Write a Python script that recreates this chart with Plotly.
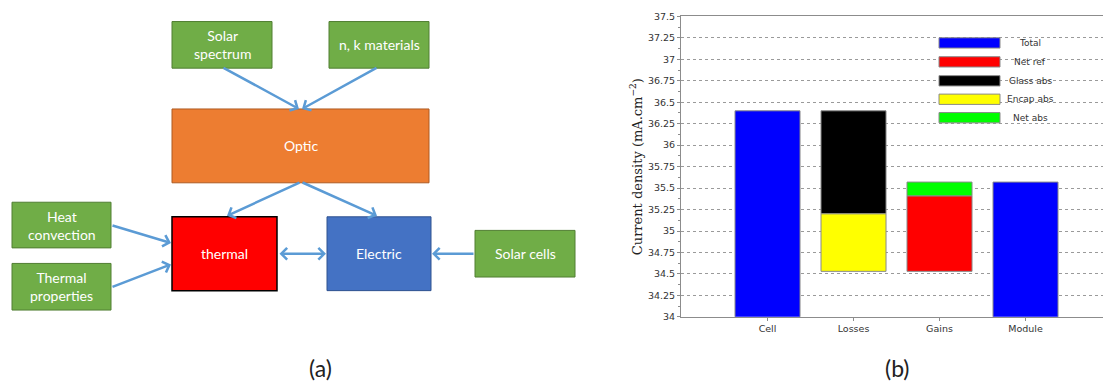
import plotly.graph_objects as go

# ---------------- data: current-density waterfall (mA.cm^-2) ----------------
categories = ["Cell", "Losses", "Gains", "Module"]
cell_current = 36.40
glass_abs = 1.20      # loss in the glass
encap_abs = 0.67      # loss in the encapsulant
net_ref = 0.88        # gain from net reflection
net_abs = 0.16        # gain from net absorption
module_current = 35.57

y_ticks = [34, 34.25, 34.5, 34.75, 35, 35.25, 35.5, 35.75,
           36, 36.25, 36.5, 36.75, 37, 37.25, 37.5]
y_tick_text = ["34", "34.25", "34.5", "34.75", "35", "35.25", "35.5", "35.75",
               "36", "36.25", "36.5", "36.75", "37", "37.25", "37.5"]

legend_names = ["Total", "Net ref", "Glass abs", "Encap abs", "Net abs"]
legend_colors = ["#0000FF", "#FF0000", "#000000", "#FFFF00", "#00FF00"]
color_of = dict(zip(legend_names, legend_colors))

# waterfall bases
glass_base = cell_current - glass_abs
encap_base = glass_base - encap_abs
ref_base = encap_base
abs_base = ref_base + net_ref

W, H = 1103, 385


def px(x):
    return x / W


def py(y):
    return 1 - y / H


fig = go.Figure()
bar_line = dict(color="#8a8a8a", width=1)
bw = 0.756

fig.add_trace(go.Bar(x=["Cell", "Module"], y=[cell_current, module_current],
                     marker=dict(color=color_of["Total"], line=bar_line), width=bw, name="Total"))
fig.add_trace(go.Bar(x=["Losses"], y=[glass_abs], base=[glass_base],
                     marker=dict(color=color_of["Glass abs"], line=bar_line), width=bw, name="Glass abs"))
fig.add_trace(go.Bar(x=["Losses"], y=[encap_abs], base=[encap_base],
                     marker=dict(color=color_of["Encap abs"], line=bar_line), width=bw, name="Encap abs"))
fig.add_trace(go.Bar(x=["Gains"], y=[net_ref], base=[ref_base],
                     marker=dict(color=color_of["Net ref"], line=bar_line), width=bw, name="Net ref"))
fig.add_trace(go.Bar(x=["Gains"], y=[net_abs], base=[abs_base],
                     marker=dict(color=color_of["Net abs"], line=bar_line), width=bw, name="Net abs"))

axis_grey = "#8c8c8c"
tick_font = dict(family="DejaVu Sans", size=9.5, color="#333333")

fig.update_layout(
    width=W, height=H,
    margin=dict(l=0, r=0, t=0, b=0),
    paper_bgcolor="white", plot_bgcolor="white",
    showlegend=False,
    barmode="overlay",
    xaxis=dict(
        domain=[px(681), 1.0],
        type="category", categoryorder="array", categoryarray=categories,
        range=[-1.006, 3.901],
        showline=True, linecolor=axis_grey, linewidth=1, mirror=True,
        ticks="outside", ticklen=3, tickcolor=axis_grey,
        showgrid=False, zeroline=False,
        tickfont=tick_font,
    ),
    yaxis=dict(
        domain=[py(320), py(10.7)],
        range=[34, 37.5],
        tickvals=y_ticks, ticktext=y_tick_text,
        showline=True, linecolor=axis_grey, linewidth=1,
        ticks="outside", ticklen=3, tickcolor=axis_grey,
        minor=dict(ticks="outside", ticklen=2, dtick=0.125, tick0=34,
                   tickcolor=axis_grey, showgrid=False),
        showgrid=True, gridcolor="#9a9a9a", gridwidth=1, griddash="dot",
        zeroline=False,
        tickfont=tick_font,
        title=dict(text="Current density (mA.cm<sup>−2</sup>)",
                   font=dict(family="DejaVu Serif", size=13, color="#222222"),
                   standoff=2),
    ),
)

shapes = []
annotations = []

# ---------------- legend drawn as wide swatches ----------------
legend_rows_y = [38, 57.5, 77, 96, 115]
for name, col, yc in zip(legend_names, legend_colors, legend_rows_y):
    shapes.append(dict(type="rect", xref="paper", yref="paper",
                       x0=px(939), x1=px(1000), y0=py(yc + 5.3), y1=py(yc - 5.3),
                       fillcolor=col, line=dict(color="#8a8a8a", width=1), layer="above"))
    annotations.append(dict(x=px(1030), y=py(yc), xref="paper", yref="paper",
                            text=name, showarrow=False, xanchor="center", yanchor="middle",
                            font=dict(family="DejaVu Sans", size=9, color="#333333")))

# ---------------- block diagram of the coupled model ----------------
green, green_edge = "#70AD47", "#507E32"
boxes = [
    ("Solar<br>spectrum", (172, 16, 272, 64), green, green_edge, 1),
    ("n, k materials", (329, 16, 429, 64), green, green_edge, 1),
    ("Optic", (172, 106, 429, 182), "#ED7D31", "#AE5A21", 1),
    ("thermal", (172, 217, 277, 293), "#FF0000", "#000000", 1.5),
    ("Electric", (327, 217, 431, 293), "#4472C4", "#2F528F", 1),
    ("Heat<br>convection", (12, 202, 111, 249), green, green_edge, 1),
    ("Thermal<br>properties", (12, 265, 111, 313), green, green_edge, 1),
    ("Solar cells", (475, 231, 575, 279), green, green_edge, 1),
]
for label, (x0, y0, x1, y1), fill, edge, lw in boxes:
    shapes.append(dict(type="rect", xref="paper", yref="paper",
                       x0=px(x0), x1=px(x1), y0=py(y1), y1=py(y0),
                       fillcolor=fill, line=dict(color=edge, width=lw), layer="above"))
    annotations.append(dict(x=px((x0 + x1) / 2), y=py((y0 + y1) / 2), xref="paper", yref="paper",
                            text=label, showarrow=False, xanchor="center", yanchor="middle",
                            font=dict(family="Lato", size=14, color="white")))

arrow_blue = "#5B9BD5"
links = [  # (tail, head, double-headed)
    ((222, 64), (299, 106), False),
    ((378, 64), (302, 106), False),
    ((301, 182), (227, 216), False),
    ((301, 182), (377, 216), False),
    ((111, 226), (171, 244), False),
    ((111, 289), (171, 266), False),
    ((475, 255), (432, 255), False),
    ((278, 255), (326, 255), True),
]
for (tx, ty), (hx, hy), both in links:
    annotations.append(dict(x=px(hx), y=py(hy), xref="paper", yref="paper",
                            ax=tx - hx, ay=ty - hy, text="", showarrow=True,
                            arrowhead=4, startarrowhead=4, arrowsize=0.9, startarrowsize=0.9,
                            arrowside="end+start" if both else "end",
                            arrowwidth=2.5, arrowcolor=arrow_blue,
                            standoff=0, startstandoff=0))

# panel captions
for cap, cx in (("(a)", 320), ("(b)", 897)):
    annotations.append(dict(x=px(cx), y=py(373), xref="paper", yref="paper",
                            text=cap, showarrow=False, xanchor="center", yanchor="middle",
                            font=dict(family="Lato", size=23, color="#222222")))

fig.update_layout(shapes=shapes, annotations=annotations)
fig.write_html("out.html")
